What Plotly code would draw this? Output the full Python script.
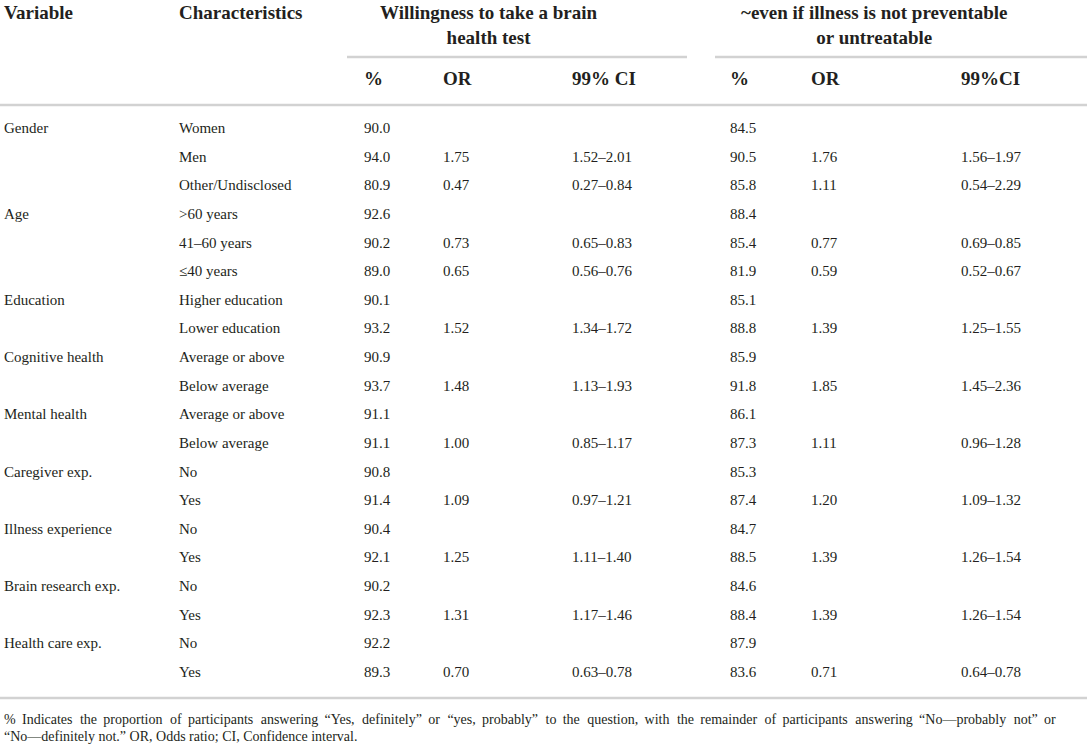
import plotly.graph_objects as go

# table content
variables = ["Gender", "", "", "Age", "", "", "Education", "", "Cognitive health", "",
             "Mental health", "", "Caregiver exp.", "", "Illness experience", "",
             "Brain research exp.", "", "Health care exp.", ""]
characteristics = ["Women", "Men", "Other/Undisclosed", ">60 years", "41–60 years", "≤40 years",
                   "Higher education", "Lower education", "Average or above", "Below average",
                   "Average or above", "Below average", "No", "Yes", "No", "Yes", "No", "Yes",
                   "No", "Yes"]

pct_test = [90.0, 94.0, 80.9, 92.6, 90.2, 89.0, 90.1, 93.2, 90.9, 93.7,
            91.1, 91.1, 90.8, 91.4, 90.4, 92.1, 90.2, 92.3, 92.2, 89.3]
or_test = [None, 1.75, 0.47, None, 0.73, 0.65, None, 1.52, None, 1.48,
           None, 1.00, None, 1.09, None, 1.25, None, 1.31, None, 0.70]
ci_test = ["", "1.52–2.01", "0.27–0.84", "", "0.65–0.83", "0.56–0.76", "", "1.34–1.72", "", "1.13–1.93",
           "", "0.85–1.17", "", "0.97–1.21", "", "1.11–1.40", "", "1.17–1.46", "", "0.63–0.78"]

pct_untreat = [84.5, 90.5, 85.8, 88.4, 85.4, 81.9, 85.1, 88.8, 85.9, 91.8,
               86.1, 87.3, 85.3, 87.4, 84.7, 88.5, 84.6, 88.4, 87.9, 83.6]
or_untreat = [None, 1.76, 1.11, None, 0.77, 0.59, None, 1.39, None, 1.85,
              None, 1.11, None, 1.20, None, 1.39, None, 1.39, None, 0.71]
ci_untreat = ["", "1.56–1.97", "0.54–2.29", "", "0.69–0.85", "0.52–0.67", "", "1.25–1.55", "", "1.45–2.36",
              "", "0.96–1.28", "", "1.09–1.32", "", "1.26–1.54", "", "1.26–1.54", "", "0.64–0.78"]

group_titles = ["Willingness to take a brain<br>health test",
                "~even if illness is not preventable<br>or untreatable"]
sub_headers_test = ["%", "OR", "99% CI"]
sub_headers_untreat = ["%", "OR", "99%CI"]

footnote_lines = [
    "% Indicates the proportion of participants answering “Yes, definitely” or “yes, probably” "
    "to the question, with the remainder of participants answering “No—probably not” or",
    "“No—definitely not.” OR, Odds ratio; CI, Confidence interval.",
]

# layout constants
W, H = 1089, 746
FONT = "Liberation Serif, Times New Roman, serif"
TXT = "#231f20"
RULE = "#d2d2d2"
ROW0, ROW_STEP = 128, 28.63
X_VAR, X_CHAR = 3, 178
X_TEST = [363, 442, 571]
X_UNTREAT = [729, 810, 960]


def fmt(v, nd):
    return "" if v is None else f"{v:.{nd}f}"


def add_text(fig, x, y, text, size=15, bold=False, anchor="left"):
    if not text:
        return
    fig.add_annotation(
        x=x, y=y, xref="x", yref="y", text=f"<b>{text}</b>" if bold else text,
        showarrow=False, xanchor=anchor, yanchor="middle", align="center",
        borderpad=0, font=dict(family=FONT, size=size, color=TXT)
    )


fig = go.Figure()
fig.add_trace(go.Scatter(x=[0, W], y=[0, H], mode="markers", marker=dict(opacity=0),
                         hoverinfo="skip", showlegend=False))

# header
add_text(fig, X_VAR, 12, "Variable", size=19, bold=True)
add_text(fig, X_CHAR, 12, "Characteristics", size=19, bold=True)
add_text(fig, 489, 25, group_titles[0], size=19, bold=True, anchor="center")
add_text(fig, 874, 25, group_titles[1], size=19, bold=True, anchor="center")
for x, t in zip(X_TEST, sub_headers_test):
    add_text(fig, x, 78, t, size=19, bold=True)
for x, t in zip(X_UNTREAT, sub_headers_untreat):
    add_text(fig, x, 78, t, size=19, bold=True)

# body rows
for i in range(len(characteristics)):
    y = ROW0 + i * ROW_STEP
    add_text(fig, X_VAR, y, variables[i])
    add_text(fig, X_CHAR, y, characteristics[i])
    add_text(fig, X_TEST[0], y, fmt(pct_test[i], 1))
    add_text(fig, X_TEST[1], y, fmt(or_test[i], 2))
    add_text(fig, X_TEST[2], y, ci_test[i])
    add_text(fig, X_UNTREAT[0], y, fmt(pct_untreat[i], 1))
    add_text(fig, X_UNTREAT[1], y, fmt(or_untreat[i], 2))
    add_text(fig, X_UNTREAT[2], y, ci_untreat[i])

# footnote: first line is justified in the source, so widen its word gaps
words = footnote_lines[0].split(" ")
first = words[0]
for k, w in enumerate(words[1:]):
    first += (" \u2009\u200a" if k % 2 else " \u2009") + w
add_text(fig, X_VAR, 719, first, size=14)
add_text(fig, X_VAR, 736, footnote_lines[1], size=14)

# rules
rules = [(347, 687, 57), (715, 1087, 57), (0, 1087, 105), (0, 1087, 698)]
for x0, x1, y in rules:
    fig.add_shape(type="line", x0=x0, x1=x1, y0=y, y1=y, xref="x", yref="y",
                  line=dict(color=RULE, width=2.5))

fig.update_xaxes(range=[0, W], visible=False, fixedrange=True)
fig.update_yaxes(range=[H, 0], visible=False, fixedrange=True)
fig.update_layout(
    width=W, height=H, margin=dict(l=0, r=0, t=0, b=0),
    plot_bgcolor="white", paper_bgcolor="white", showlegend=False
)

# drop the browser's default body margin so the figure sits at the page corner
fig.write_html("out.html", config={"displayModeBar": False},
               post_script="document.body.style.margin='0px';")
